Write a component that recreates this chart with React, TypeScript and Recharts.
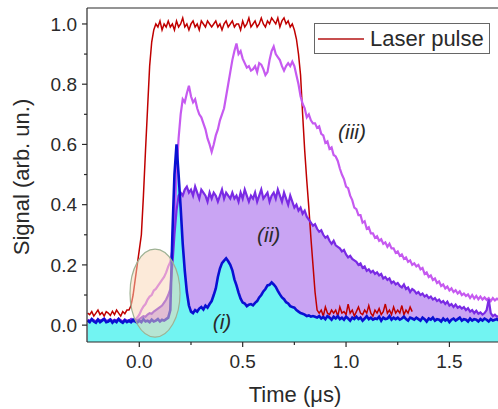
import React from "react";
import {
  ComposedChart,
  Area,
  Line,
  XAxis,
  YAxis,
  ReferenceLine,
  ReferenceDot,
  Legend,
} from "recharts";

const FONT = '"Liberation Sans", Arial, Helvetica, sans-serif';
const INK = "#2a2a2a";

// scope time base, 10 ns per sample (us)
const time = Array.from({ length: 200 }, (_, i) => Math.round((-0.25 + i * 0.01) * 100) / 100);

// laser pulse (normalised), recorded up to ~1.32 us
const laserPulse = [
  0.04, 0.035, 0.045, 0.03, 0.04, 0.05, 0.035, 0.042, 0.03, 0.045,
  0.04, 0.032, 0.046, 0.035, 0.05, 0.04, 0.03, 0.045, 0.038, 0.05,
  0.05, 0.065, 0.1, 0.15, 0.2, 0.25, 0.3, 0.43, 0.58, 0.72,
  0.86, 0.94, 0.98, 1.0, 0.99, 1.01, 0.98, 1.0, 0.99, 1.01,
  0.99, 1.0, 0.98, 1.01, 0.99, 1.0, 1.02, 0.99, 1.0, 0.98,
  1.0, 1.01, 0.99, 1.0, 0.98, 1.01, 1.0, 0.99, 1.01, 1.0,
  0.99, 1.0, 1.01, 0.99, 1.0, 0.98, 1.0, 1.01, 0.99, 1.0,
  1.01, 0.99, 1.0, 1.0, 0.98, 1.01, 0.99, 1.0, 1.02, 0.99,
  1.0, 1.01, 0.99, 1.0, 1.02, 1.0, 0.99, 1.01, 1.0, 1.02,
  1.01, 1.0, 1.02, 0.99, 1.01, 1.02, 1.0, 1.01, 0.99, 1.0,
  0.98, 0.95, 0.9, 0.83, 0.7, 0.58, 0.48, 0.39, 0.29, 0.2,
  0.11, 0.05, 0.04, 0.05, 0.03, 0.06, 0.04, 0.035, 0.05, 0.04,
  0.05, 0.03, 0.06, 0.04, 0.045, 0.035, 0.07, 0.04, 0.05, 0.03,
  0.045, 0.06, 0.04, 0.035, 0.05, 0.04, 0.065, 0.04, 0.03, 0.05,
  0.04, 0.055, 0.035, 0.045, 0.07, 0.04, 0.05, 0.035, 0.06, 0.04,
  0.05, 0.04, 0.065, 0.035, 0.05, 0.04, 0.06, 0.045,
];

// (i)
const signalI = [
  0.015, 0.01, 0.02, 0.012, 0.008, 0.018, 0.01, 0.015, 0.02, 0.01,
  0.012, 0.018, 0.008, 0.015, 0.01, 0.02, 0.012, 0.008, 0.016, 0.01,
  0.015, 0.01, 0.018, 0.012, 0.008, 0.015, 0.01, 0.02, 0.012, 0.015,
  0.01, 0.018, 0.012, 0.015, 0.02, 0.012, 0.018, 0.015, 0.02, 0.025,
  0.05, 0.3, 0.5, 0.6, 0.5, 0.39, 0.27, 0.18, 0.11, 0.065,
  0.045, 0.04, 0.05, 0.045, 0.055, 0.06, 0.052, 0.065, 0.058, 0.07,
  0.08, 0.1, 0.122, 0.16, 0.188, 0.206, 0.214, 0.222, 0.212, 0.2,
  0.182, 0.152, 0.132, 0.108, 0.088, 0.075, 0.072, 0.063, 0.068, 0.07,
  0.066, 0.074, 0.08, 0.092, 0.1, 0.112, 0.12, 0.132, 0.134, 0.142,
  0.135, 0.127, 0.114, 0.102, 0.092, 0.086, 0.076, 0.072, 0.063, 0.06,
  0.058, 0.05, 0.045, 0.04, 0.038, 0.035, 0.03, 0.032, 0.028, 0.03,
  0.028, 0.025, 0.03, 0.022, 0.027, 0.02, 0.03, 0.025, 0.018, 0.028,
  0.022, 0.03, 0.02, 0.025, 0.018, 0.028, 0.022, 0.015, 0.025, 0.02,
  0.028, 0.02, 0.025, 0.015, 0.022, 0.03, 0.02, 0.025, 0.018, 0.022,
  0.02, 0.028, 0.015, 0.025, 0.02, 0.022, 0.03, 0.018, 0.025, 0.02,
  0.025, 0.018, 0.022, 0.028, 0.02, 0.015, 0.025, 0.022, 0.018, 0.025,
  0.02, 0.015, 0.025, 0.02, 0.012, 0.022, 0.018, 0.025, 0.015, 0.02,
  0.018, 0.012, 0.022, 0.015, 0.02, 0.01, 0.018, 0.022, 0.015, 0.02,
  0.025, 0.015, 0.02, 0.018, 0.012, 0.022, 0.015, 0.02, 0.018, 0.012,
  0.02, 0.015, 0.022, 0.018, 0.012, 0.02, 0.015, 0.018, 0.02, 0.015,
];

// (ii)
const signalII = [
  0.018, 0.014, 0.02, 0.016, 0.012, 0.02, 0.015, 0.018, 0.022, 0.014,
  0.016, 0.02, 0.013, 0.018, 0.015, 0.022, 0.016, 0.012, 0.019, 0.015,
  0.015, 0.02, 0.012, 0.018, 0.015, 0.02, 0.025, 0.03, 0.028, 0.035,
  0.04, 0.038, 0.045, 0.05, 0.055, 0.06, 0.065, 0.075, 0.085, 0.1,
  0.12, 0.2, 0.3, 0.38, 0.43, 0.44, 0.43, 0.45, 0.46, 0.44,
  0.45, 0.43, 0.46, 0.44, 0.42, 0.45, 0.44, 0.43, 0.41, 0.44,
  0.42, 0.44, 0.43, 0.41, 0.43, 0.45, 0.42, 0.44, 0.43, 0.42,
  0.44, 0.42, 0.43, 0.41, 0.44, 0.42, 0.45, 0.43, 0.41, 0.43,
  0.42, 0.44, 0.41, 0.43, 0.45, 0.42, 0.43, 0.44, 0.41, 0.43,
  0.44, 0.42, 0.45, 0.43, 0.41, 0.44, 0.42, 0.4, 0.43, 0.41,
  0.39, 0.4, 0.38, 0.39, 0.37, 0.38, 0.36, 0.35, 0.34, 0.33,
  0.335, 0.32, 0.31, 0.315, 0.3, 0.29, 0.295, 0.28, 0.27, 0.28,
  0.265, 0.26, 0.255, 0.245, 0.25, 0.235, 0.225, 0.23, 0.22, 0.215,
  0.21, 0.2, 0.205, 0.19, 0.195, 0.18, 0.185, 0.175, 0.18, 0.17,
  0.175, 0.165, 0.17, 0.155, 0.16, 0.15, 0.155, 0.14, 0.145, 0.135,
  0.14, 0.13, 0.125, 0.135, 0.12, 0.125, 0.11, 0.12, 0.115, 0.105,
  0.11, 0.1, 0.105, 0.095, 0.1, 0.09, 0.095, 0.085, 0.09, 0.08,
  0.085, 0.075, 0.08, 0.07, 0.078, 0.065, 0.07, 0.06, 0.068, 0.058,
  0.062, 0.055, 0.06, 0.05, 0.056, 0.045, 0.05, 0.04, 0.048, 0.038,
  0.042, 0.035, 0.04, 0.05, 0.085, 0.04, 0.03, 0.035, 0.028, 0.03,
];

// (iii)
const signalIII = [
  0.016, 0.012, 0.018, 0.014, 0.01, 0.018, 0.013, 0.016, 0.02, 0.012,
  0.014, 0.018, 0.011, 0.016, 0.013, 0.02, 0.014, 0.01, 0.017, 0.013,
  0.012, 0.015, 0.014, 0.018, 0.025, 0.035, 0.05, 0.062, 0.07, 0.085,
  0.095, 0.1, 0.115, 0.12, 0.13, 0.14, 0.15, 0.16, 0.175, 0.195,
  0.21, 0.25, 0.35, 0.5, 0.62, 0.7, 0.75, 0.74, 0.77, 0.795,
  0.76, 0.74, 0.75, 0.72, 0.7, 0.69, 0.67, 0.65, 0.62, 0.6,
  0.575, 0.6, 0.63, 0.65, 0.68, 0.7, 0.72, 0.76, 0.8, 0.84,
  0.88, 0.91, 0.935, 0.9, 0.91, 0.885, 0.87, 0.855, 0.86, 0.845,
  0.85, 0.86, 0.84, 0.87, 0.865, 0.85, 0.83, 0.84, 0.88, 0.91,
  0.925, 0.9, 0.89, 0.88, 0.86, 0.845, 0.86, 0.87, 0.86, 0.875,
  0.86, 0.83, 0.8, 0.76, 0.735, 0.72, 0.69, 0.7, 0.68, 0.67,
  0.67, 0.655, 0.66, 0.635, 0.63, 0.605, 0.61, 0.585, 0.59, 0.565,
  0.56, 0.545, 0.52, 0.5, 0.485, 0.46, 0.455, 0.43, 0.415, 0.39,
  0.385, 0.365, 0.365, 0.34, 0.345, 0.32, 0.325, 0.305, 0.305, 0.29,
  0.295, 0.28, 0.285, 0.27, 0.275, 0.26, 0.27, 0.255, 0.255, 0.24,
  0.245, 0.23, 0.235, 0.22, 0.225, 0.21, 0.215, 0.2, 0.205, 0.195,
  0.2, 0.185, 0.19, 0.17, 0.175, 0.16, 0.165, 0.15, 0.155, 0.14,
  0.145, 0.13, 0.135, 0.122, 0.128, 0.115, 0.122, 0.11, 0.116, 0.105,
  0.112, 0.1, 0.105, 0.097, 0.102, 0.09, 0.1, 0.088, 0.097, 0.086,
  0.095, 0.085, 0.092, 0.084, 0.09, 0.08, 0.09, 0.082, 0.088, 0.083,
];

const xTicks = [0, 0.5, 1, 1.5];
const xMinorTicks = [0.25, 0.75, 1.25];
const yTicks = [0, 0.2, 0.4, 0.6, 0.8, 1];
const yMinorTicks = [0.1, 0.3, 0.5, 0.7, 0.9];

const X_DOMAIN: [number, number] = [-0.253, 1.735];
const Y_DOMAIN: [number, number] = [-0.056, 1.053];

const rows = time.map((t, i) => ({
  t,
  laser: laserPulse[i] ?? null,
  s1: signalI[i],
  s2: signalII[i],
  s3: signalIII[i],
}));

const TICK = 5;
const MINOR = 3;
const X_MARGIN = 8;
const Y_MARGIN = 5;

const XTick = ({ x, y, payload }: any) => {
  const axisY = y - TICK - X_MARGIN;
  const major = xTicks.includes(payload.value);
  return (
    <g>
      <line x1={x} x2={x} y1={axisY} y2={axisY + (major ? TICK : MINOR)} stroke={INK} strokeWidth={1.2} />
      {major && (
        <text x={x} y={y} dy="0.71em" textAnchor="middle" fontSize={19} fontFamily={FONT} fill={INK}>
          {payload.value.toFixed(1)}
        </text>
      )}
    </g>
  );
};

const YTick = ({ x, y, payload }: any) => {
  const axisX = x + TICK + Y_MARGIN;
  const major = yTicks.includes(payload.value);
  return (
    <g>
      <line x1={axisX - (major ? TICK : MINOR)} x2={axisX} y1={y} y2={y} stroke={INK} strokeWidth={1.2} />
      {major && (
        <text x={x} y={y} dy="0.355em" textAnchor="end" fontSize={19} fontFamily={FONT} fill={INK}>
          {payload.value.toFixed(1)}
        </text>
      )}
    </g>
  );
};

const curveLabel = (text: string) => ({
  content: ({ viewBox }: any) => (
    <text
      x={viewBox.x + viewBox.width / 2}
      y={viewBox.y + viewBox.height / 2}
      dy="0.35em"
      textAnchor="middle"
      fontSize={21}
      fontStyle="italic"
      fontFamily={FONT}
      fill={INK}
    >
      {text}
    </text>
  ),
});

const Ellipse = ({ cx, cy }: any) => (
  <ellipse cx={cx} cy={cy} rx={25} ry={44} fill="#f9d6b4" fillOpacity={0.5} stroke="#9fb294" strokeWidth={1.2} />
);

const LegendBox = () => (
  <div
    style={{
      boxSizing: "border-box",
      width: 176,
      height: 31,
      border: "1px solid #666",
      background: "#fff",
      display: "flex",
      alignItems: "center",
      fontFamily: FONT,
      fontSize: 22,
      color: INK,
    }}
  >
    <svg width={50} height={10} style={{ marginLeft: 2 }}>
      <line x1={1} x2={47} y1={5} y2={5} stroke="#b51515" strokeWidth={1.6} />
    </svg>
    <span style={{ marginLeft: 3, lineHeight: "22px" }}>Laser pulse</span>
  </div>
);

export default function App() {
  return (
    <div style={{ position: "absolute", left: 0, top: 0, width: 498, height: 409, background: "#fff" }}>
      <ComposedChart width={498} height={409} data={rows} margin={{ top: 8, right: 0, bottom: 0, left: 0 }}>
        <XAxis
          dataKey="t"
          type="number"
          domain={X_DOMAIN}
          allowDataOverflow
          ticks={[...xTicks, ...xMinorTicks]}
          interval={0}
          height={67}
          tickSize={TICK}
          tickMargin={X_MARGIN}
          tickLine={false}
          tick={<XTick />}
          axisLine={{ stroke: INK, strokeWidth: 1.2 }}
          label={{
            content: () => (
              <text x={295} y={402} textAnchor="middle" fontSize={22} fontFamily={FONT} fill={INK}>
                Time (μs)
              </text>
            ),
          }}
        />
        <YAxis
          type="number"
          domain={Y_DOMAIN}
          allowDataOverflow
          ticks={[...yTicks, ...yMinorTicks]}
          interval={0}
          width={87}
          tickSize={TICK}
          tickMargin={Y_MARGIN}
          tickLine={false}
          tick={<YTick />}
          axisLine={{ stroke: INK, strokeWidth: 1.2 }}
          label={{
            content: () => (
              <text transform="translate(29,177) rotate(-90)" textAnchor="middle" fontSize={22} fontFamily={FONT} fill={INK}>
                Signal (arb. un.)
              </text>
            ),
          }}
        />
        <ReferenceLine y={Y_DOMAIN[1]} stroke={INK} strokeWidth={1.2} />

        <Area dataKey="s2" type="linear" baseValue={Y_DOMAIN[0]} stroke="none" fill="#c9a4f3" fillOpacity={1} isAnimationActive={false} />
        <Area dataKey="s1" type="linear" baseValue={Y_DOMAIN[0]} stroke="none" fill="#72f4f2" fillOpacity={1} isAnimationActive={false} />

        <Line dataKey="laser" name="Laser pulse" type="linear" stroke="#c00000" strokeWidth={1.5} dot={false} isAnimationActive={false} />
        <Line dataKey="s3" type="linear" stroke="#c65af0" strokeWidth={2.2} dot={false} isAnimationActive={false} />
        <Line dataKey="s2" type="linear" stroke="#7a2ae4" strokeWidth={2.2} dot={false} isAnimationActive={false} />
        <Line dataKey="s1" type="linear" stroke="#0a10d2" strokeWidth={2.6} dot={false} isAnimationActive={false} />

        <ReferenceDot x={0.076} y={0.106} shape={<Ellipse />} />
        <ReferenceDot x={0.4} y={0.013} r={0} fill="none" stroke="none" label={curveLabel("(i)")} />
        <ReferenceDot x={0.626} y={0.302} r={0} fill="none" stroke="none" label={curveLabel("(ii)")} />
        <ReferenceDot x={1.029} y={0.644} r={0} fill="none" stroke="none" label={curveLabel("(iii)")} />

        <Legend
          layout="vertical"
          align="center"
          verticalAlign="middle"
          wrapperStyle={{ position: "absolute", top: 23, left: 314, width: 176, height: 31 }}
          content={() => <LegendBox />}
        />
      </ComposedChart>
    </div>
  );
}
